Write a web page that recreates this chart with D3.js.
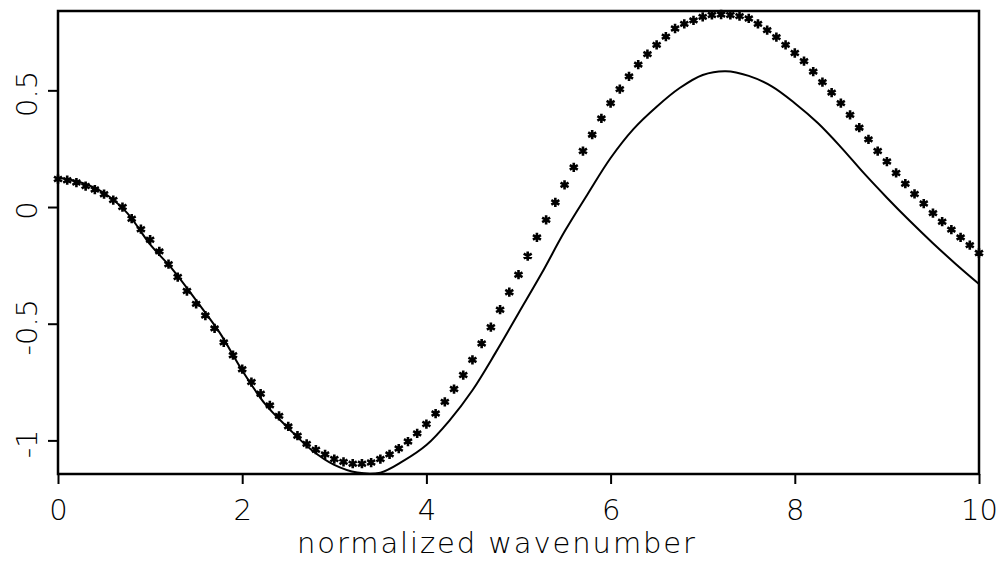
<!DOCTYPE html>
<html>
<head>
<meta charset="utf-8">
<script src="https://cdn.jsdelivr.net/npm/d3@7"></script>
<style>
  html, body { margin: 0; padding: 0; background: #fff; }
  svg text { font-family: "DejaVu Sans", sans-serif; fill: #000; }
</style>
</head>
<body>
<div id="chart"></div>
<script>
// 實線 (solid curve)
const solidX = [0, 0.25, 0.5, 0.75, 1, 1.25, 1.5, 1.75, 2, 2.25, 2.5, 2.75, 3, 3.25, 3.5, 3.75, 4, 4.25, 4.5, 4.75,
  5, 5.25, 5.5, 5.75, 6, 6.25, 6.5, 6.75, 7, 7.25, 7.5, 7.75, 8, 8.25, 8.5, 8.75, 9, 9.25, 9.5, 9.75, 10];
const solidY = [0.125, 0.105, 0.06, -0.025, -0.16, -0.27, -0.4, -0.535, -0.7, -0.845, -0.947, -1.04, -1.105, -1.138, -1.138, -1.088,
  -1.02, -0.915, -0.785, -0.625, -0.455, -0.285, -0.105, 0.055, 0.21, 0.335, 0.43, 0.51, 0.566, 0.582, 0.562,
  0.517, 0.445, 0.36, 0.257, 0.145, 0.04, -0.06, -0.155, -0.245, -0.33];

// 星號資料點 (star markers)
const markerX = [0, 0.1, 0.2, 0.3, 0.4, 0.5, 0.6, 0.7, 0.8, 0.9, 1, 1.1, 1.2, 1.3, 1.4, 1.5, 1.6, 1.7, 1.8, 1.9,
  2, 2.1, 2.2, 2.3, 2.4, 2.5, 2.6, 2.7, 2.8, 2.9, 3, 3.1, 3.2, 3.3, 3.4, 3.5, 3.6, 3.7, 3.8, 3.9,
  4, 4.1, 4.2, 4.3, 4.4, 4.5, 4.6, 4.7, 4.8, 4.9, 5, 5.1, 5.2, 5.3, 5.4, 5.5, 5.6, 5.7, 5.8, 5.9,
  6, 6.1, 6.2, 6.3, 6.4, 6.5, 6.6, 6.7, 6.8, 6.9, 7, 7.1, 7.2, 7.3, 7.4, 7.5, 7.6, 7.7, 7.8, 7.9,
  8, 8.1, 8.2, 8.3, 8.4, 8.5, 8.6, 8.7, 8.8, 8.9, 9, 9.1, 9.2, 9.3, 9.4, 9.5, 9.6, 9.7, 9.8, 9.9, 10];
const markerY = [0.12, 0.115, 0.105, 0.09, 0.075, 0.055, 0.03, 0.0, -0.05, -0.095,
  -0.14, -0.19, -0.245, -0.3, -0.36, -0.415, -0.465, -0.52, -0.58, -0.635,
  -0.695, -0.75, -0.8, -0.85, -0.895, -0.94, -0.98, -1.015, -1.04, -1.06,
  -1.08, -1.092, -1.1, -1.1, -1.095, -1.08, -1.06, -1.035, -1.005, -0.97,
  -0.93, -0.885, -0.835, -0.78, -0.72, -0.655, -0.585, -0.515, -0.44, -0.365,
  -0.29, -0.21, -0.13, -0.055, 0.02, 0.095, 0.17, 0.24, 0.31, 0.38,
  0.445, 0.505, 0.56, 0.61, 0.655, 0.695, 0.73, 0.765, 0.785, 0.8,
  0.815, 0.823, 0.825, 0.823, 0.818, 0.808, 0.785, 0.758, 0.728, 0.695,
  0.66, 0.625, 0.58, 0.535, 0.49, 0.445, 0.395, 0.34, 0.29, 0.24,
  0.195, 0.146, 0.1, 0.056, 0.015, -0.026, -0.063, -0.097, -0.13, -0.163, -0.197];

// 刻度 (ticks)
const xTicks = [0, 2, 4, 6, 8, 10];
const yTicks = [-1, -0.5, 0, 0.5];
const xLabel = "normalized wavenumber";

const width = 998;
const height = 561;
const padding = { top: 11, left: 58, bottom: 87, right: 19 };

const svg = d3
  .select("#chart")
  .append("svg")
  .attr("width", width)
  .attr("height", height);

const x = d3
  .scaleLinear()
  .domain([0, 10])
  .range([padding.left, width - padding.right]);

const y = d3
  .scaleLinear()
  .domain([-1.144, 0.84])
  .range([height - padding.bottom, padding.top]);

// X 軸
const xAxis = svg
  .append("g")
  .attr("transform", `translate(0, ${height - padding.bottom})`)
  .call(d3.axisBottom(x).tickValues(xTicks).tickSize(10).tickPadding(15).tickFormat(d3.format("d")));
xAxis.select(".domain").remove();
xAxis.selectAll("line").attr("stroke-width", 2);
xAxis.selectAll("text").style("font-size", "29px").style("font-weight", 300).attr("dy", "0.71em");

// Y 軸 (旋轉標籤)
const yAxis = svg
  .append("g")
  .attr("transform", `translate(${padding.left}, 0)`)
  .call(d3.axisLeft(y).tickValues(yTicks).tickSize(10).tickFormat((d) => String(d)));
yAxis.select(".domain").remove();
yAxis.selectAll("line").attr("stroke-width", 2);
yAxis
  .selectAll("text")
  .attr("x", null)
  .attr("dy", null)
  .attr("text-anchor", "middle")
  .attr("transform", "translate(-21, 3) rotate(-90)")
  .style("font-size", "29px")
  .style("font-weight", 300);

// 外框
svg
  .append("rect")
  .attr("x", x(0))
  .attr("y", y(0.84))
  .attr("width", x(10) - x(0))
  .attr("height", y(-1.144) - y(0.84))
  .attr("fill", "none")
  .attr("stroke", "black")
  .attr("stroke-width", 2.5);

// 實線
const line = d3
  .line()
  .x((d) => x(d[0]))
  .y((d) => y(d[1]))
  .curve(d3.curveCatmullRom);

svg
  .append("path")
  .datum(solidX.map((v, i) => [v, solidY[i]]))
  .attr("fill", "none")
  .attr("stroke", "black")
  .attr("stroke-width", 2)
  .attr("d", line);

// 星號
const star = d3.symbol().type(d3.symbolAsterisk).size(60);
svg
  .selectAll("path.star")
  .data(markerX.map((v, i) => [v, markerY[i]]))
  .enter()
  .append("path")
  .attr("class", "star")
  .attr("transform", (d) => `translate(${x(d[0])}, ${y(d[1])})`)
  .attr("d", star)
  .attr("fill", "none")
  .attr("stroke", "black")
  .attr("stroke-width", 2.6);

// X 軸標題
svg
  .append("text")
  .attr("x", 496)
  .attr("y", 553)
  .attr("text-anchor", "middle")
  .attr("textLength", 398)
  .attr("lengthAdjust", "spacing")
  .style("font-size", "29px")
  .style("font-weight", 300)
  .text(xLabel);
</script>
</body>
</html>
